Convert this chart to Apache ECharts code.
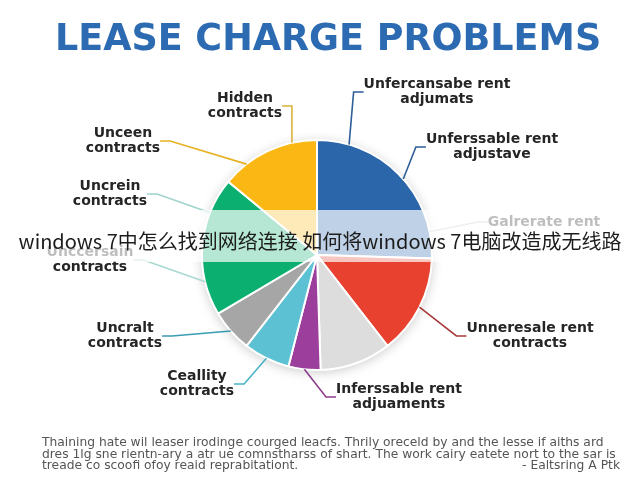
<!DOCTYPE html>
<html>
<head>
<meta charset="utf-8">
<script src="https://cdn.jsdelivr.net/npm/echarts@6/dist/echarts.min.js"></script>
<style>
html,body{margin:0;padding:0;background:#fff;}
#chart{width:640px;height:480px;}
</style>
</head>
<body>
<div id="chart"></div>
<script>
// ---- data ----
const titleText = 'LEASE CHARGE PROBLEMS';
const labelNames = [
  'Unfercansabe rent\nadjumats',
  'Unferssable rent\nadjustave',
  'Galrerate rent',
  'Unneresale rent\ncontracts',
  '',
  'Inferssable rent\nadjuaments',
  'Ceallity\ncontracts',
  'Uncralt\ncontracts',
  'Unccersain\ncontracts',
  'Uncrein\ncontracts',
  'Unceen\ncontracts',
  'Hidden\ncontracts'
];
const labelValues = [9, 9, 7.5, 14, 10, 4.5, 6.5, 6, 9.5, 10, 7, 7];
const sliceGroup  = [0, 0, 0, 1, 2, 3, 4, 5, 6, 6, 7, 7];
const groupNames = ['Blue', 'Red', 'Light gray', 'Purple', 'Cyan', 'Gray', 'Green', 'Yellow'];
const bannerText = 'windows 7中怎么找到网络连接 如何将windows 7电脑改造成无线路';
const footerLines = [
  'Thaining hate wil leaser irodinge courged leacfs. Thrily oreceld by and the lesse if aiths ard',
  'dres 1lg sne rientn-ary a atr ue comnstharss of shart. The work cairy eatete nort to the sar is',
  'treade co scoofi ofoy reaid reprabitationt.'
];
const footerAuthor = '- Ealtsring A Ptk';

// ---- styles ----
const groupColors = ['#2b66aa', '#e8412f', '#dddddd', '#9c3f9c', '#5cc1d2', '#a6a6a6', '#0baf6f', '#fbb814'];
const lineColors = ['#2d5e98', '#2d5e98', '#c0ccd8', '#a83a3a', '#cccccc', '#8e3c8e',
                    '#4ab3c6', '#3a9cb3', '#a8d8d0', '#9fd4cc', '#e6b224', '#d9b43c'];
const labelPos = [
  [437, 92], [492, 147], [544, 222], [530, 336], [0, 0], [399, 397],
  [197, 384], [125, 336], [90, 260], [110, 194], [123, 141], [245, 106]
];
const center = [317, 255];
const radius = 115;

const groupValues = groupNames.map(() => 0);
labelValues.forEach((v, i) => { groupValues[sliceGroup[i]] += v; });

const chart = echarts.init(document.getElementById('chart'), null, {renderer: 'canvas'});

const option = {
  backgroundColor: '#ffffff',
  animation: false,
  title: {
    text: titleText,
    left: 50,
    top: 17,
    textStyle: {fontFamily: 'DejaVu Sans', fontWeight: 'bold', fontSize: 36.5, color: '#2c6bb2'}
  },
  series: [
    {
      type: 'pie', silent: true, center: center, radius: radius, z: 1,
      label: {show: false}, labelLine: {show: false},
      itemStyle: {color: '#ffffff', shadowBlur: 12, shadowColor: 'rgba(0,0,0,0.22)', shadowOffsetY: 2},
      data: [{value: 1, name: 'shadow'}]
    },
    {
      type: 'pie', silent: true, center: center, radius: radius, z: 2,
      startAngle: 90, clockwise: true,
      label: {show: false}, labelLine: {show: false},
      itemStyle: {borderColor: '#ffffff', borderWidth: 2},
      data: groupNames.map((n, i) => ({value: groupValues[i], name: n, itemStyle: {color: groupColors[i]}}))
    },
    {
      type: 'pie', silent: true, center: center, radius: radius, z: 3,
      startAngle: 90, clockwise: true,
      avoidLabelOverlap: false,
      itemStyle: {color: 'rgba(0,0,0,0)', borderWidth: 0},
      label: {
        show: true, position: 'outside',
        fontFamily: 'DejaVu Sans', fontWeight: 'bold', fontSize: 14, lineHeight: 15,
        color: '#252525'
      },
      labelLine: {show: true, length: 12, length2: 10, smooth: false, lineStyle: {width: 1.6}},
      labelLayout: function (params) {
        const p = labelPos[params.dataIndex];
        return {x: p[0], y: p[1], align: 'center', verticalAlign: 'middle', hideOverlap: false};
      },
      data: labelNames.map((n, i) => ({
        value: labelValues[i],
        name: n,
        label: {show: n !== ''},
        labelLine: {show: n !== '', lineStyle: {color: lineColors[i]}}
      }))
    }
  ],
  graphic: [
    {type: 'rect', z: 100, shape: {x: 0, y: 210, width: 640, height: 52}, style: {fill: 'rgba(255,255,255,0.7)'}},
    {type: 'text', z: 101, x: 320, y: 241, style: {text: bannerText, fill: '#1c1c1c', font: '20px "Noto Sans CJK SC"', textAlign: 'center', textVerticalAlign: 'middle'}},
    {type: 'text', z: 101, x: 42, y: 443, style: {text: footerLines[0], fill: '#555555', font: '12.3px "DejaVu Sans"', textAlign: 'left', textVerticalAlign: 'middle'}},
    {type: 'text', z: 101, x: 42, y: 455, style: {text: footerLines[1], fill: '#555555', font: '12.3px "DejaVu Sans"', textAlign: 'left', textVerticalAlign: 'middle'}},
    {type: 'text', z: 101, x: 42, y: 466, style: {text: footerLines[2], fill: '#555555', font: '12.3px "DejaVu Sans"', textAlign: 'left', textVerticalAlign: 'middle'}},
    {type: 'text', z: 101, x: 620, y: 466, style: {text: footerAuthor, fill: '#555555', font: '12.3px "DejaVu Sans"', textAlign: 'right', textVerticalAlign: 'middle'}}
  ]
};
chart.setOption(option);
</script>
</body>
</html>
